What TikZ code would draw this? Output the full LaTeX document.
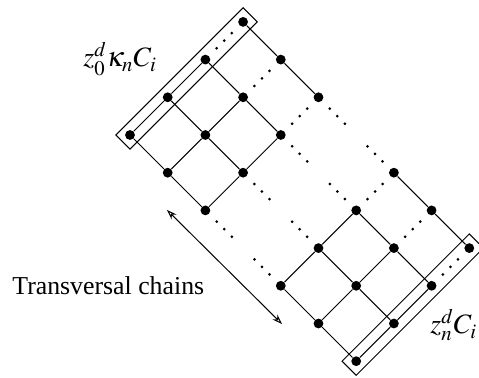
\documentclass[tikz,border=0pt]{standalone}
\usepackage{mathptmx}
\usepackage{fontspec}
\setmainfont{Liberation Serif}
\usetikzlibrary{calc,arrows.meta}
\begin{document}
\begin{tikzpicture}[x=0.5pt,y=-0.5pt,
  dot/.style={circle,fill=black,inner sep=0pt,minimum size=4.9pt},
  edge/.style={line width=0.5pt},
  chainbox/.style={draw,line width=0.5pt,rotate=45,inner sep=0pt,minimum width=90pt,minimum height=10pt},
  lbl/.style={inner sep=0pt,anchor=base west,font=\fontsize{12.9}{15}\selectfont},
  mlbl/.style={inner sep=0pt,anchor=base west,font=\fontsize{14}{16}\selectfont}]
\useasboundingbox (0,0) rectangle (479,378);
\begin{scope}[shift={(130,135)},x={(18.85pt,-18.85pt)},y={(18.85pt,18.85pt)}]
 \foreach \a in {0,1,2,4,5,6}{\foreach \b in {0,1,2,3}{\node[dot] (p\a\b) at (\a,\b) {};}}
\end{scope}
% lines along the chains
\foreach \a/\c in {0/1,1/2,4/5,5/6}{\foreach \b in {0,1,2,3}{\draw[edge] (p\a\b) -- (p\c\b);}}
\foreach \a in {0,1,2,4,5,6}{\draw[edge] (p\a0) -- (p\a1) -- (p\a2);}
% ellipses
\foreach \a in {0,1,2,4,5,6}{\foreach \t in {0.3,0.5,0.7}{\fill ($(p\a2.center)!\t!(p\a3.center)$) circle[radius=0.75pt];}}
\foreach \b in {0,1,2,3}{\foreach \t in {0.15,0.25,0.35,0.65,0.75,0.85}{\fill ($(p2\b.center)!\t!(p4\b.center)$) circle[radius=0.75pt];}}
% boxes
\node[chainbox] (boxA) at ($(p00.center)!0.5!(p03.center)$) {};
\node[chainbox] (boxB) at ($(p60.center)!0.5!(p63.center)$) {};
% arrow
\coordinate (arrA) at (167,210);
\coordinate (arrB) at (282,324);
\draw[edge,{Stealth[open,length=5pt,width=3.5pt]}-{Stealth[open,length=5pt,width=3.5pt]}] (arrA) -- (arrB);
% labels
\node[mlbl] (lblA) at (83,67) {$z_0^d\kappa_nC_i$};
\node[lbl] (lblT) at (12,295) {Transversal chains};
\node[mlbl] (lblB) at (430,334) {$z_n^dC_i$};
\end{tikzpicture}
\end{document}
